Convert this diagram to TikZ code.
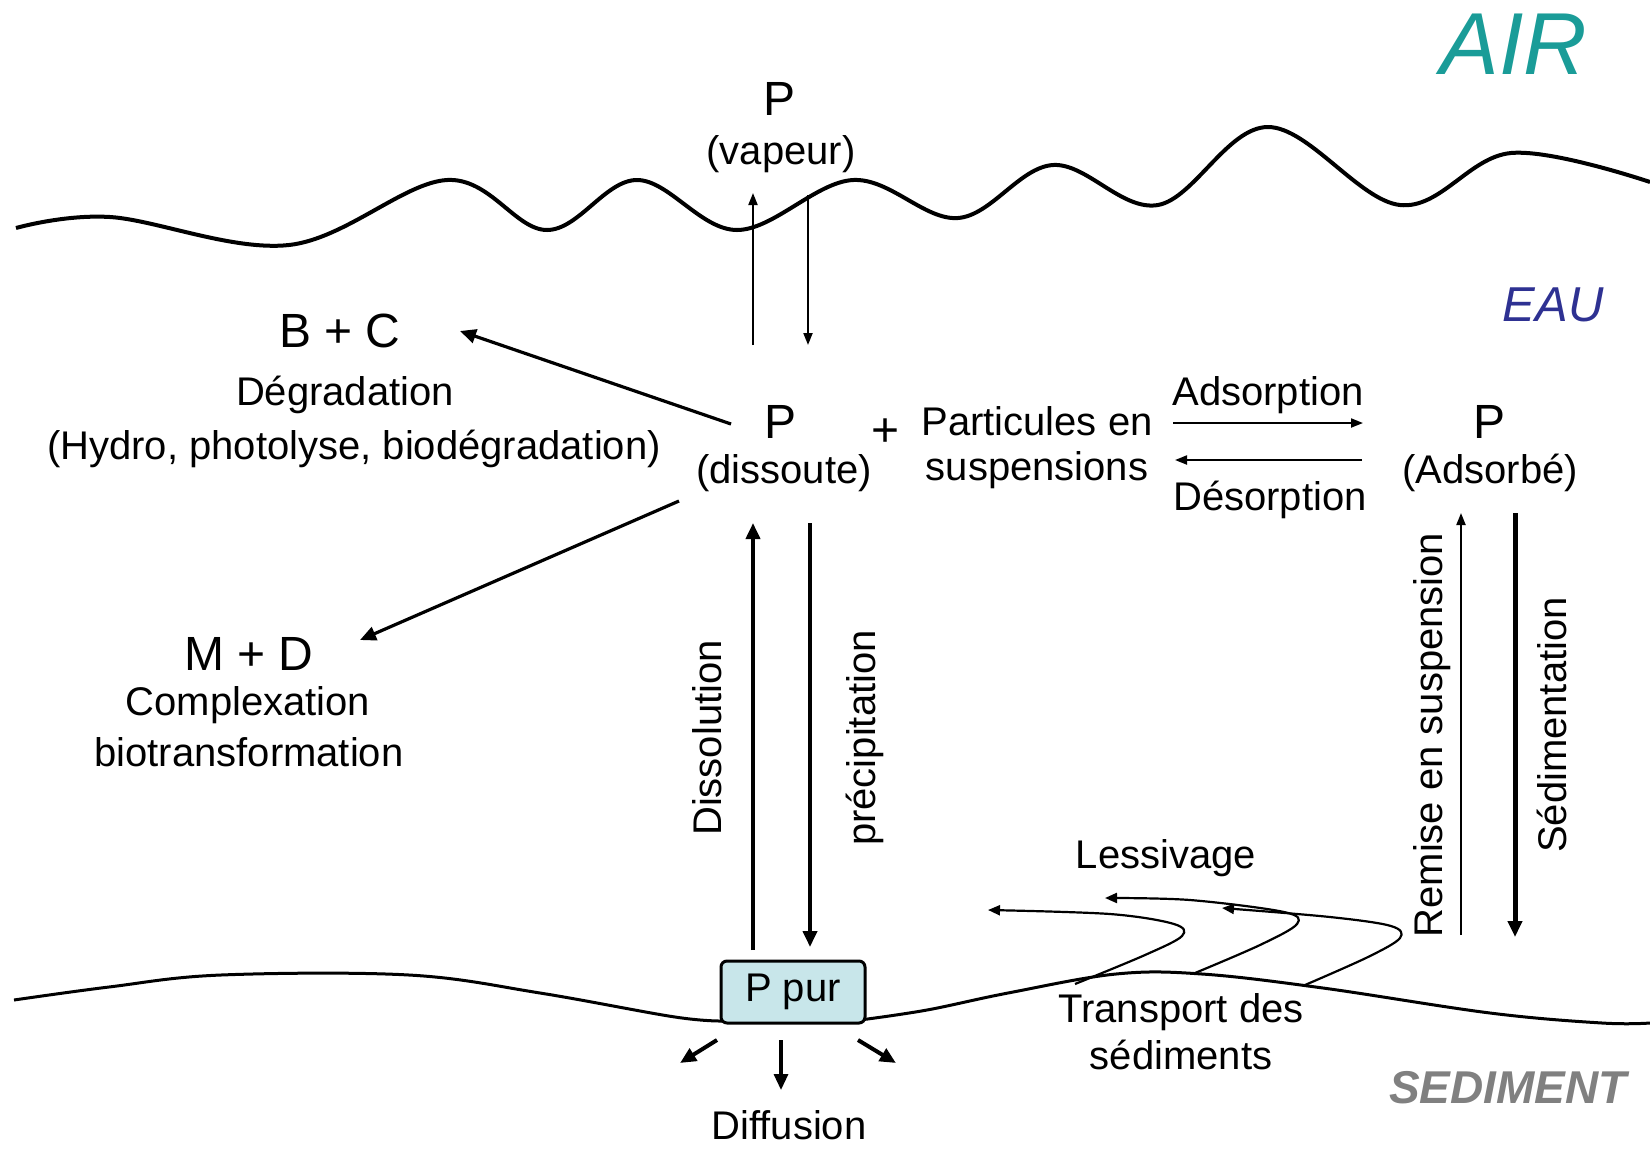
\documentclass[tikz,border=0pt]{standalone}
\usepackage{fontspec}
\setmainfont{Liberation Sans}
\usetikzlibrary{arrows.meta}
\definecolor{airc}{RGB}{26,156,152}
\definecolor{eauc}{RGB}{46,49,146}
\definecolor{sedc}{RGB}{128,128,128}
\definecolor{boxc}{RGB}{200,230,234}
\begin{document}
\begin{tikzpicture}[x=0.5pt,y=-0.5pt,
  lbl/.style={font=\fontsize{20}{22}\selectfont, inner sep=0pt, text height=14.4pt, text depth=0pt},
  big/.style={font=\fontsize{24}{26}\selectfont, inner sep=0pt, text height=17.3pt, text depth=0pt},
  rot/.style={lbl, rotate=90},
  arr/.style={line width=1.6pt, -{Triangle[length=8pt,width=7pt]}},
  thinarr/.style={line width=1pt, -{Triangle[length=6pt,width=4.5pt]}},
  curvarr/.style={line width=1.1pt, -{Triangle[length=6pt,width=5pt]}},
  zone/.style={font=\fontsize{#1}{#1}\selectfont\itshape, inner sep=0pt}]
\useasboundingbox (0,0) rectangle (1650,1148);

% zone labels
\node[zone=44, text=airc] (air) at (1514,44) {AIR};
\node[zone=24.5, text=eauc] (eau) at (1553,305) {EAU};
\node[zone=23, text=sedc] (sed) at (1508,1088) {\bfseries SEDIMENT};

% water surface
\draw[line width=2pt] plot[smooth, tension=0.6] coordinates {(16,228) (110,217) (289,245) (447,180) (547,230) (637,180) (737,230) (853,180) (958,218) (1053,165) (1158,205) (1268,127) (1400,205) (1511,153) (1650,182)};

% sediment surface
\draw[line width=1.5pt] plot[smooth, tension=0.6] coordinates {(14,1000) (109,987) (221,975) (409,975) (540,993) (675,1017) (725,1021)};
\draw[line width=1.5pt] plot[smooth, tension=0.6] coordinates {(860,1020) (927,1010) (1008,993) (1116,974) (1202,974) (1323,988) (1490,1013) (1602,1023) (1650,1023)};

% texts
\node[big] (pv) at (779,98) {P};
\node[lbl] (vap) at (781,150) {(vapeur)};
\node[big] (bc) at (340,330) {B + C};
\node[lbl] (deg) at (345,391) {Dégradation};
\node[lbl] (hyd) at (354,445) {(Hydro, photolyse, biodégradation)};
\node[big] (pd) at (781,421) {P};
\node[lbl] (dis) at (784,469) {(dissoute)};
\node[big] (plus) at (886,429) {+};
\node[lbl] (part1) at (1037,421) {Particules en};
\node[lbl] (part2) at (1037,466) {suspensions};
\node[lbl] (ads) at (1268,391) {Adsorption};
\node[lbl] (des) at (1270,496) {Désorption};
\node[big] (pa) at (1489,421) {P};
\node[lbl] (adsb) at (1490,469) {(Adsorbé)};
\node[big] (md) at (249,653) {M + D};
\node[lbl] (cpx) at (248,701) {Complexation};
\node[lbl] (bio) at (249,752) {biotransformation};
\node[rot] (diss) at (707,738) {Dissolution};
\node[rot] (prec) at (861,738) {précipitation};
\node[rot] (rem) at (1428,735) {Remise en suspension};
\node[rot] (sedi) at (1552,725) {Sédimentation};
\node[lbl] (less) at (1166,854) {Lessivage};
\node[lbl] (tr1) at (1181,1008) {Transport des};
\node[lbl] (tr2) at (1181,1055) {sédiments};
\node[lbl] (diff) at (789,1125) {Diffusion};

% pure P box
\node[draw, line width=1.5pt, fill=boxc, rounded corners=3pt, minimum width=72pt, minimum height=31pt, inner sep=0pt, font=\fontsize{20}{22}\selectfont] (ppur) at (793,992) {P pur};

% coordinates for arrow ends
\coordinate (vu1) at (753,345); \coordinate (vu2) at (753,193);
\coordinate (vd1) at (808,195); \coordinate (vd2) at (808,345);
\coordinate (bc1) at (731,424); \coordinate (bc2) at (460,331);
\coordinate (md1) at (679,501); \coordinate (md2) at (360,640);
\coordinate (ad1) at (1173,423); \coordinate (ad2) at (1363,423);
\coordinate (de1) at (1362,460); \coordinate (de2) at (1175,460);
\coordinate (du1) at (753,950); \coordinate (du2) at (753,523);
\coordinate (pr1) at (810,523); \coordinate (pr2) at (810,947);
\coordinate (re1) at (1461,935); \coordinate (re2) at (1461,513);
\coordinate (se1) at (1515,513); \coordinate (se2) at (1515,937);
\coordinate (df1) at (717,1040); \coordinate (df2) at (680,1063);
\coordinate (df3) at (781,1040); \coordinate (df4) at (781,1090);
\coordinate (df5) at (858,1040); \coordinate (df6) at (896,1063);

\draw[thinarr] (vu1) -- (vu2);
\draw[thinarr] (vd1) -- (vd2);
\draw[arr] (bc1) -- (bc2);
\draw[arr] (md1) -- (md2);
\draw[thinarr] (ad1) -- (ad2);
\draw[thinarr] (de1) -- (de2);
\draw[arr, line width=1.9pt] (du1) -- (du2);
\draw[arr, line width=1.9pt] (pr1) -- (pr2);
\draw[thinarr] (re1) -- (re2);
\draw[arr, line width=2.5pt] (se1) -- (se2);
\draw[arr, line width=2pt] (df1) -- (df2);
\draw[arr] (df3) -- (df4);
\draw[arr, line width=2pt] (df5) -- (df6);

% Lessivage / transport curves
\draw[curvarr] plot[smooth, tension=0.55] coordinates {(1075,984) (1145,955) (1182,936) (1174,924) (1110,914) (988,910)};
\draw[curvarr] plot[smooth, tension=0.55] coordinates {(1195,973) (1260,945) (1297,924) (1284,912) (1190,900) (1105,898)};
\draw[curvarr] plot[smooth, tension=0.55] coordinates {(1305,985) (1368,957) (1400,938) (1391,926) (1330,917) (1222,908)};
\end{tikzpicture}
\end{document}
